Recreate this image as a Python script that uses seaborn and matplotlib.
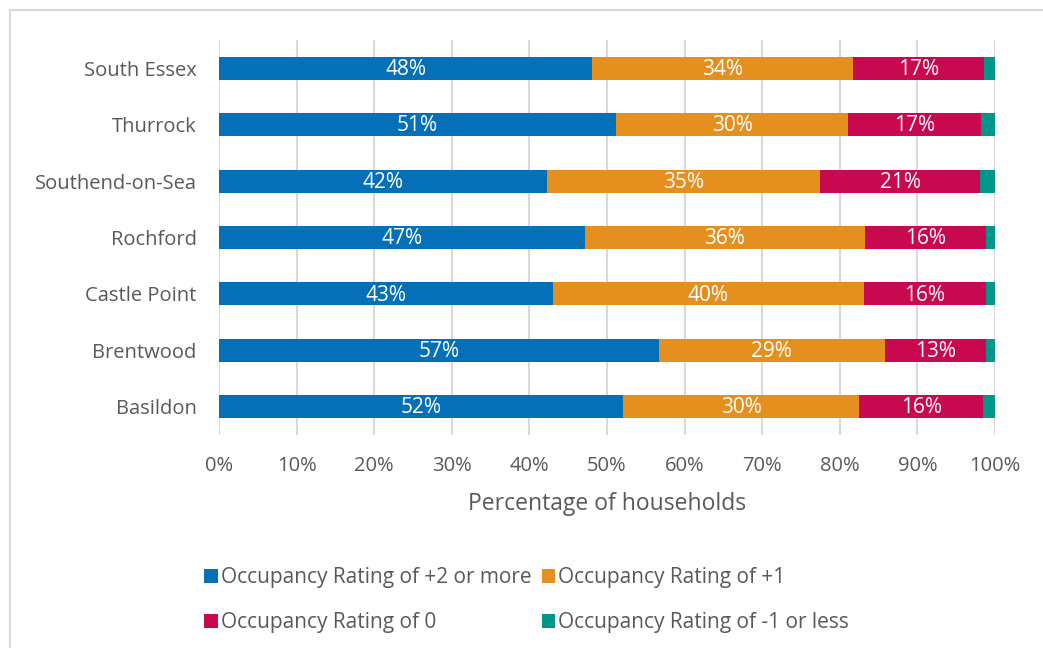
import matplotlib
matplotlib.use("Agg")
import matplotlib.pyplot as plt
from matplotlib.lines import Line2D
from matplotlib.patches import Patch
import seaborn as sns
import pandas as pd
import numpy as np

# Household occupancy ratings by area (% of households)
areas = ["South Essex", "Thurrock", "Southend-on-Sea", "Rochford",
         "Castle Point", "Brentwood", "Basildon"]
rating_plus2 = [48.1, 51.2, 42.3, 47.2, 43.0, 56.7, 52.1]
rating_plus1 = [33.6, 29.9, 35.2, 36.0, 40.1, 29.1, 30.4]
rating_zero = [16.9, 17.1, 20.6, 15.6, 15.7, 13.0, 16.0]
rating_minus1 = [1.4, 1.8, 1.9, 1.2, 1.2, 1.2, 1.5]

series_names = ["Occupancy Rating of +2 or more", "Occupancy Rating of +1",
                "Occupancy Rating of 0", "Occupancy Rating of -1 or less"]
series_values = [rating_plus2, rating_plus1, rating_zero, rating_minus1]
colors = ["#0570B8", "#E48F1E", "#C8094F", "#00968A"]
x_ticks = [0, 10, 20, 30, 40, 50, 60, 70, 80, 90, 100]

sns.set_theme(style="white")
plt.rcParams["font.family"] = ["Open Sans", "DejaVu Sans"]
text_color = "#595959"
grid_color = "#D9D9D9"

df = pd.DataFrame({"area": areas})
for name, vals in zip(series_names, series_values):
    df[name] = vals
cum = df[series_names].cumsum(axis=1)

fig = plt.figure(figsize=(10.43, 6.48), dpi=100)
ax = fig.add_axes([219 / 1043, 1 - 435 / 648, (995 - 219) / 1043, 395 / 648])

# Stacked bars: draw cumulative totals from the widest down
for name, color in reversed(list(zip(series_names, colors))):
    sns.barplot(data=cum.assign(area=df["area"]), x=name, y="area",
                orient="h", color=color, width=0.41, ax=ax,
                saturation=1, linewidth=0, zorder=3)

# Segment value labels
for i, name in enumerate(series_names[:3]):
    starts = cum[name] - df[name]
    for j, (s, v) in enumerate(zip(starts, df[name])):
        ax.text(s + v / 2, j + 0.02, f"{v:.0f}%", ha="center", va="center",
                color="white", fontsize=15, zorder=4)

ax.set_xlim(0, 100)
ax.set_ylim(6.5, -0.5)
ax.set_xticks(x_ticks)
ax.set_xticklabels([f"{t}%" for t in x_ticks])
ax.xaxis.grid(True, color=grid_color, linewidth=1.5, zorder=0)
ax.set_axisbelow(True)
for sp in ax.spines.values():
    sp.set_visible(False)
ax.tick_params(axis="both", length=0, labelsize=14.5, labelcolor=text_color)
ax.tick_params(axis="x", pad=15)
ax.tick_params(axis="y", pad=16)
ax.set_ylabel("")
ax.set_xlabel("Percentage of households", fontsize=16.5, color=text_color,
              labelpad=12)

# Legend entries ordered so rows read left to right
order = [0, 2, 1, 3]
handles = [Patch(facecolor=colors[k], edgecolor="none") for k in order]
labels = [series_names[k] for k in order]
fig.legend(handles, labels, ncol=2, loc="center",
           bbox_to_anchor=(0.505, 1 - 600 / 648), frameon=False,
           fontsize=15, labelcolor=text_color, handlelength=0.65,
           handleheight=0.65, handletextpad=0.15, columnspacing=0.5,
           labelspacing=1.15)

# Outer frame lines
fig.add_artist(Line2D([10 / 1043, 1], [1 - 10 / 648] * 2,
                      transform=fig.transFigure, color=grid_color, lw=1.5))
fig.add_artist(Line2D([10 / 1043] * 2, [0, 1 - 10 / 648],
                      transform=fig.transFigure, color=grid_color, lw=1.5))

fig.savefig("out.png", dpi=100)
